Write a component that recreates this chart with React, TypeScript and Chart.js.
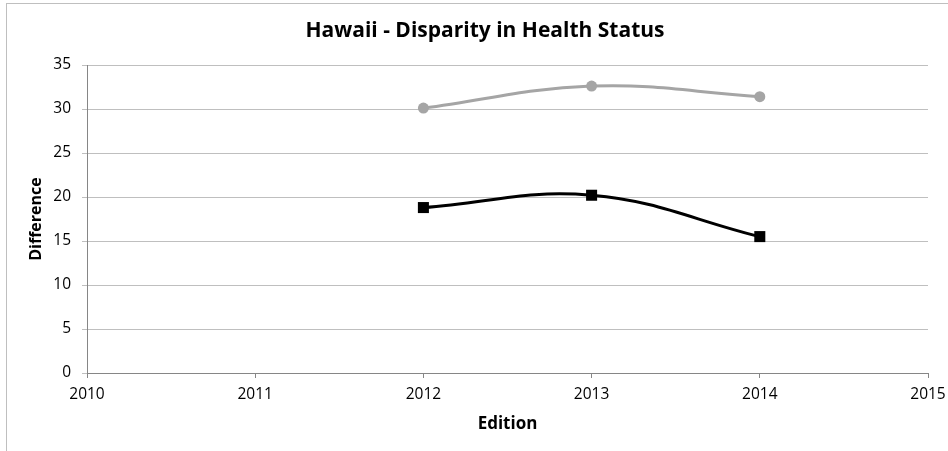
import React, { useEffect, useRef } from "react";
import { Chart, registerables } from "chart.js";

Chart.register(...registerables);

const titleText = "Hawaii - Disparity in Health Status";
const xTitle = "Edition";
const yTitle = "Difference";
const editions = [2012, 2013, 2014];
const grayValues = [30.1, 32.6, 31.4];
const blackValues = [18.8, 20.2, 15.5];
const xMin = 2010;
const xMax = 2015;
const yMin = 0;
const yMax = 35;
const yStep = 5;

const FONT = "'Open Sans', 'Liberation Sans', sans-serif";

const titlePlugin = {
  id: "customTitle",
  afterDraw(chart: any) {
    const ctx = chart.ctx;
    ctx.save();
    ctx.font = `bold 21px ${FONT}`;
    ctx.fillStyle = "#000";
    ctx.textAlign = "center";
    ctx.textBaseline = "middle";
    ctx.fillText(titleText, 485, 31);
    ctx.restore();
  },
};

export default function App() {
  const ref = useRef<HTMLCanvasElement | null>(null);
  useEffect(() => {
    if (!ref.current) return;
    const chart = new Chart(ref.current, {
      type: "scatter",
      data: {
        datasets: [
          {
            label: "Gray",
            data: editions.map((e, i) => ({ x: e, y: grayValues[i] })),
            showLine: true,
            borderColor: "#a5a5a5",
            backgroundColor: "#a5a5a5",
            borderWidth: 3,
            pointStyle: "circle",
            pointRadius: 5.5,
            pointBorderWidth: 0,
            tension: 0.4,
          },
          {
            label: "Black",
            data: editions.map((e, i) => ({ x: e, y: blackValues[i] })),
            showLine: true,
            borderColor: "#000",
            backgroundColor: "#000",
            borderWidth: 3,
            pointStyle: "rect",
            pointRadius: 7.8,
            pointBorderWidth: 0,
            tension: 0.4,
          },
        ],
      },
      options: {
        animation: false,
        responsive: false,
        maintainAspectRatio: false,
        layout: { padding: { top: 65, right: 20, left: 0, bottom: 0 } },
        plugins: {
          legend: { display: false },
          tooltip: { enabled: false },
          title: { display: false },
        },
        scales: {
          x: {
            type: "linear",
            min: xMin,
            max: xMax,
            ticks: {
              stepSize: 1,
              color: "#000",
              font: { family: FONT, size: 15.5 },
              padding: 7,
              callback: (v: any) => String(v),
            },
            grid: {
              drawOnChartArea: false,
              drawTicks: true,
              tickLength: 5,
              tickColor: "#868686",
            },
            border: { color: "#868686", width: 1 },
            title: {
              display: true,
              text: xTitle,
              color: "#000",
              font: { family: FONT, size: 17, weight: "bold" },
              padding: { top: 0, bottom: 17 },
            },
            afterFit(scale: any) {
              scale.height = 78;
              scale.paddingLeft = 0;
              scale.paddingRight = 0;
            },
          },
          y: {
            min: yMin,
            max: yMax,
            ticks: {
              stepSize: yStep,
              color: "#000",
              font: { family: FONT, size: 15.5 },
              padding: 11,
            },
            grid: {
              color: "#bfbfbf",
              lineWidth: 1,
              tickLength: 5,
              tickColor: "#bfbfbf",
            },
            border: { color: "#868686", width: 1 },
            title: {
              display: true,
              text: yTitle,
              color: "#000",
              font: { family: FONT, size: 16, weight: "bold" },
              padding: { top: 27, bottom: 0 },
            },
            afterFit(scale: any) {
              scale.width = 87;
            },
          },
        },
      },
      plugins: [titlePlugin],
    });
    return () => chart.destroy();
  }, []);

  return (
    <div
      style={{
        position: "absolute",
        left: 0,
        top: 0,
        width: 948,
        height: 451,
        overflow: "hidden",
        background: "#fff",
      }}
    >
      <div
        style={{
          position: "absolute",
          left: 6,
          top: 3,
          width: 1000,
          height: 500,
          border: "1px solid #bfbfbf",
          boxSizing: "border-box",
        }}
      />
      <canvas
        ref={ref}
        width={948}
        height={451}
        style={{ position: "absolute", left: 0, top: 0, width: 948, height: 451 }}
      />
    </div>
  );
}
